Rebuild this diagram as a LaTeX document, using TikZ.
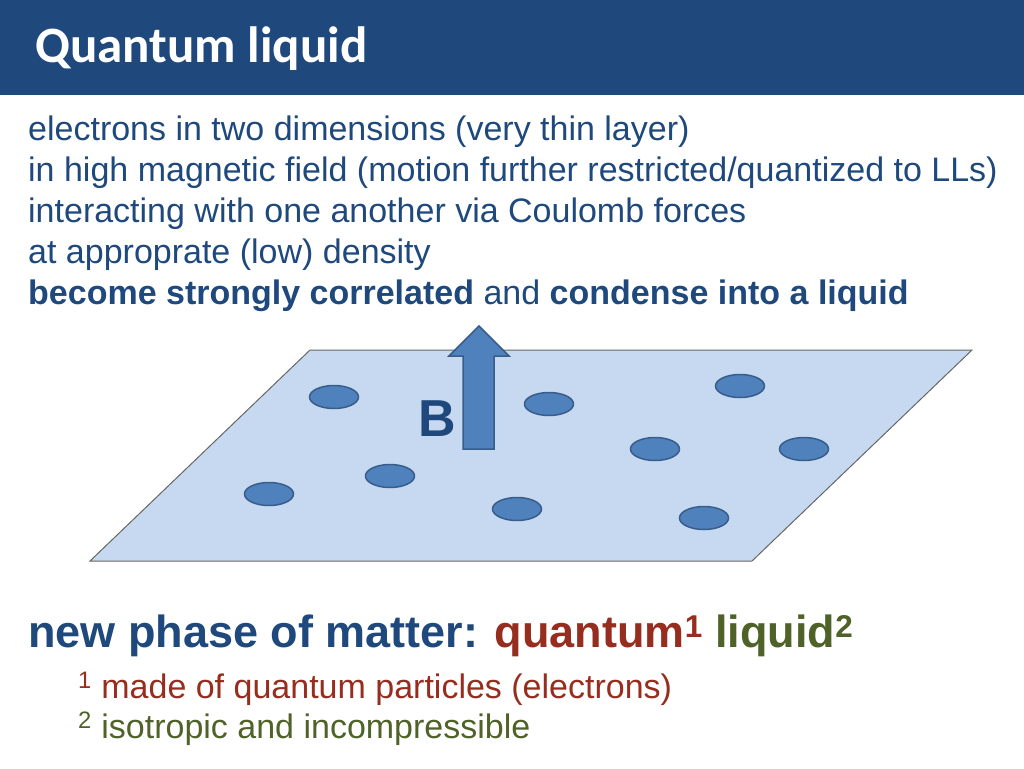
\documentclass[tikz,border=0pt]{standalone}
\usepackage{fontspec}
\usetikzlibrary{shapes.geometric}
\setmainfont{Liberation Sans}
\newfontfamily\titlefont{Carlito}
\definecolor{bar}{RGB}{31,73,125}
\definecolor{txtblue}{RGB}{31,73,125}
\definecolor{plane}{RGB}{198,217,240}
\definecolor{dot}{RGB}{79,129,189}
\definecolor{dotline}{RGB}{56,93,138}
\definecolor{qred}{RGB}{150,45,30}
\definecolor{qgreen}{RGB}{79,98,40}
\begin{document}
\begin{tikzpicture}[x=1pt,y=-1pt,
  body/.style={anchor=base west,inner sep=0,font=\fontsize{34}{40}\selectfont,text=txtblue},
  elec/.style={ellipse,draw=dotline,line width=1.5pt,fill=dot,minimum width=49,minimum height=23,inner sep=0}]
\useasboundingbox (0,0) rectangle (1024,768);
\fill[bar] (0,0) rectangle (1024,95);
\node[anchor=base west,inner sep=0,text=white,font=\titlefont\bfseries\fontsize{51}{56}\selectfont] (title) at (35,63) {Quantum liquid};
\node[body] (l1) at (28,140) {electrons in two dimensions (very thin layer)};
\node[body] (l2) at (28,181) {in high magnetic field (motion further restricted/quantized to LLs)};
\node[body] (l3) at (28,222) {interacting with one another via Coulomb forces};
\node[body] (l4) at (28,263) {at approprate (low) density};
\node[body] (l5) at (28,304) {\textbf{become strongly correlated} and \textbf{condense into a liquid}};
\draw[draw=gray!80!black,fill=plane,line width=1pt] (310,350) -- (972,350) -- (752,561) -- (90,561) -- cycle;
\node[elec] (e1) at (334,397) {};
\node[elec] (e2) at (549,404) {};
\node[elec] (e3) at (740,386) {};
\node[elec] (e4) at (655,449) {};
\node[elec] (e5) at (804,449) {};
\node[elec] (e6) at (390,476) {};
\node[elec] (e7) at (269,494) {};
\node[elec] (e8) at (517,509) {};
\node[elec] (e9) at (704,518) {};
\draw[draw=dotline,line width=1.5pt,fill=dot] (463,449) -- (463,356) -- (449,356) -- (479,326) -- (509,356) -- (494,356) -- (494,449) -- cycle;
\node[anchor=base,inner sep=0,text=txtblue,font=\bfseries\fontsize{52}{56}\selectfont] (B) at (437,436) {B};
\node[anchor=base west,inner sep=0,font=\bfseries\fontsize{45}{50}\selectfont,text=txtblue] (np) at (28,647)
 {new phase of matter: \textcolor{qred}{quantum\textsuperscript{1}} \textcolor{qgreen}{liquid\textsuperscript{2}}};
\node[body,text=qred] (f1) at (78,698) {\textsuperscript{1} made of quantum particles (electrons)};
\node[body,text=qgreen] (f2) at (78,738) {\textsuperscript{2} isotropic and incompressible};
\end{tikzpicture}
\end{document}
